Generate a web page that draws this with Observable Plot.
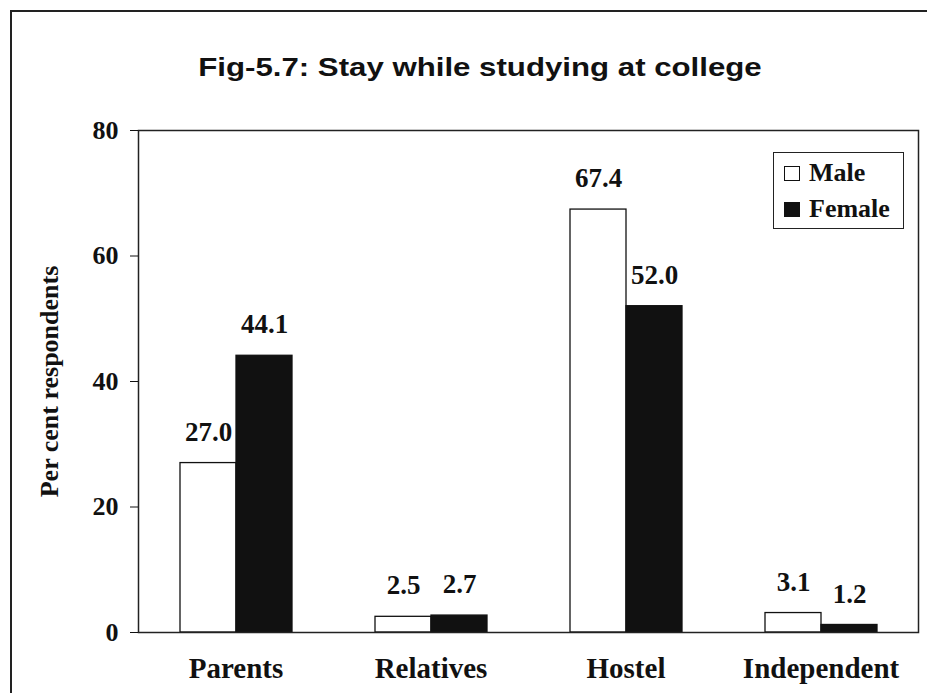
<!DOCTYPE html>
<html>
<head>
<meta charset="utf-8">
<script src="https://cdn.jsdelivr.net/npm/d3@7"></script>
<script src="https://cdn.jsdelivr.net/npm/@observablehq/plot@0.6"></script>
<style>
  html, body { margin: 0; padding: 0; background: #fff; }
  #page { position: relative; width: 927px; height: 693px; overflow: hidden; background: #fff; }
  #border { position: absolute; left: 10px; top: 10px; width: 1000px; height: 800px;
            border-left: 2px solid #222; border-top: 2px solid #222; }
  #title { position: absolute; left: 0; width: 960px; top: 52px; text-align: center;
           font-family: "Liberation Sans", Arial, sans-serif; font-weight: bold; font-size: 26px; color: #111;
           transform: scaleX(1.2); transform-origin: 480px 0; }
  #chart { position: absolute; left: 0; top: 0; }
  #legend { position: absolute; left: 773px; top: 152px; width: 131px; height: 77px; box-sizing: border-box;
            border: 1.5px solid #222; background: #fff; padding-top: 2px;
            font-family: "Liberation Serif", serif; font-weight: bold; font-size: 26px; color: #111; }
  .item { display: flex; align-items: center; height: 36px; padding-left: 10px; }
  .sw { width: 16px; height: 15px; border: 1.3px solid #111; margin-right: 9px; box-sizing: border-box; }
</style>
</head>
<body>
<div id="page">
  <div id="border"></div>
  <div id="title">Fig-5.7: Stay while studying at college</div>
  <div id="chart"></div>
  <div id="legend"></div>
</div>
<script>
// Where students stay while studying at college (per cent of respondents)
const categories = ["Parents", "Relatives", "Hostel", "Independent"];
const groups = ["Male", "Female"];
const male = [27.0, 2.5, 67.4, 3.1];
const female = [44.1, 2.7, 52.0, 1.2];
const yTicks = [0, 20, 40, 60, 80];
const groupColors = ["#ffffff", "#111111"];

const data = categories.flatMap((c, i) => [
  {category: c, sex: "Male", value: male[i]},
  {category: c, sex: "Female", value: female[i]}
]);

const chart = Plot.plot({
  width: 927,
  height: 693,
  marginTop: 130,
  marginBottom: 61,
  marginLeft: 137,
  marginRight: 9,
  style: {fontFamily: "Liberation Serif, serif", fontWeight: "bold", fontSize: "26px", color: "#111", background: "transparent", overflow: "visible"},
  fx: {domain: categories, padding: 0, label: null},
  x: {domain: groups, paddingInner: 0, paddingOuter: 0.74, axis: null},
  y: {domain: [0, 80], label: null},
  color: {domain: groups, range: groupColors},
  marks: [
    Plot.barY(data, {fx: "category", x: "sex", y: "value", fill: "sex", stroke: "#111", strokeWidth: 1.3}),
    Plot.text(data, {fx: "category", x: "sex", y: "value", text: d => d.value.toFixed(1), dy: -31, fontSize: 27}),
    Plot.frame({facet: "super", stroke: "#222", strokeWidth: 1.5}),
    Plot.axisY({ticks: yTicks, tickSize: 8, tickPadding: 12, label: "Per cent respondents", labelAnchor: "center", labelOffset: 99, labelArrow: "none", fontSize: 26}),
    Plot.axisFx({anchor: "bottom", tickSize: 0, tickPadding: 25, label: null, fontSize: 29})
  ]
});
document.getElementById("chart").appendChild(chart);

// Legend drawn from the same group names and colours
const legend = document.getElementById("legend");
groups.forEach((g, i) => {
  const row = document.createElement("div");
  row.className = "item";
  const sw = document.createElement("span");
  sw.className = "sw";
  sw.style.background = groupColors[i];
  row.appendChild(sw);
  row.appendChild(document.createTextNode(g));
  legend.appendChild(row);
});
</script>
</body>
</html>
